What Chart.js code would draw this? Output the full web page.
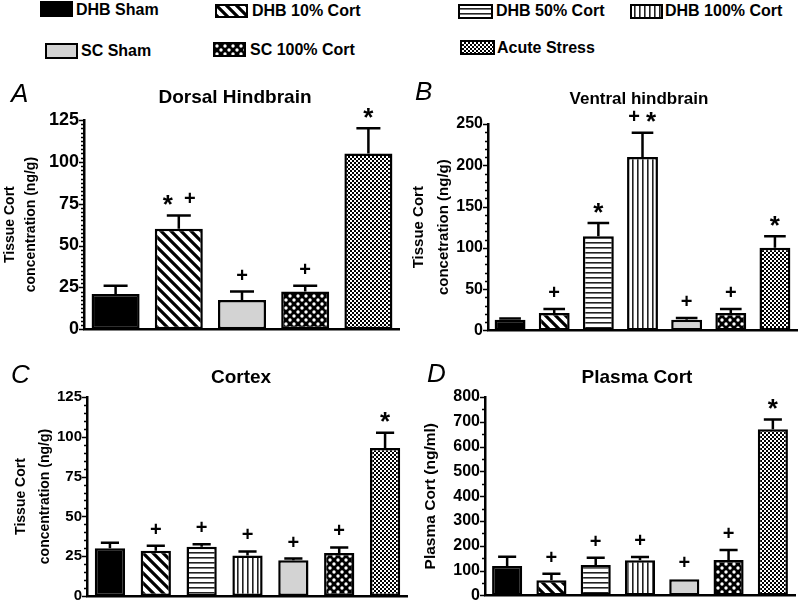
<!DOCTYPE html>
<html>
<head>
<meta charset="utf-8">
<script src="https://cdn.jsdelivr.net/npm/chart.js@4.4.1/dist/chart.umd.min.js"></script>
<style>
  body { margin: 0; background: #fff; }
  #page { position: relative; width: 800px; height: 610px; overflow: hidden; background: #fff;
          font-family: 'Liberation Sans', Arial, Helvetica, sans-serif; }
  #page canvas.panel { position: absolute; }
  .sw { position: absolute; border: 2px solid #000; }
  .lt { position: absolute; font-weight: bold; font-size: 16px; line-height: 16px; color: #000; white-space: nowrap; }
</style>
</head>
<body>
<div id="page">
  <canvas class="panel" id="dorsal" width="400" height="275" style="left:0;top:70px"></canvas>
  <canvas class="panel" id="ventral" width="400" height="275" style="left:400px;top:70px"></canvas>
  <canvas class="panel" id="cortex" width="408" height="260" style="left:0;top:350px"></canvas>
  <canvas class="panel" id="plasma" width="400" height="260" style="left:400px;top:350px"></canvas>
</div>
<script>
const FONT = "'Liberation Sans', Arial, Helvetica, sans-serif";

// groups
const groups = ['DHB Sham', 'DHB 10% Cort', 'DHB 50% Cort', 'DHB 100% Cort', 'SC Sham', 'SC 100% Cort', 'Acute Stress'];
const groupsDorsal = ['DHB Sham', 'DHB 10% Cort', 'SC Sham', 'SC 100% Cort', 'Acute Stress'];

// A - dorsal hindbrain (ng/g)
const dorsalMeans = [21, 60, 17.5, 22.5, 105];
const dorsalSem = [5, 8, 5, 3.5, 15];
const dorsalMarks = ['', '* +', '+', '+', '*'];

// B - ventral hindbrain (ng/g)
const ventralMeans = [13, 21, 114, 210, 13, 21, 100];
const ventralSem = [1.5, 5, 16, 29.5, 2, 5, 14];
const ventralMarks = ['', '+', '*', '+ *', '+', '+', '*'];

// C - cortex (ng/g)
const cortexMeans = [30, 28.5, 31, 25.5, 22.5, 27, 93];
const cortexSem = [3.5, 3, 1.5, 2.5, 1, 3.5, 9.5];
const cortexMarks = ['', '+', '+', '+', '+', '+', '*'];

// D - plasma (ng/ml)
const plasmaMeans = [119, 61, 123, 142, 65, 143, 670];
const plasmaSem = [37, 26, 29, 13, 0, 40, 39];
const plasmaMarks = ['', '+', '+', '+', '+', '+', '*'];

// y axes: max, major step, minor step
const dorsalAxis = [125, 25, 2.5];
const ventralAxis = [250, 50, 10];
const cortexAxis = [125, 25, 5];
const plasmaAxis = [800, 100, 50];

function tile(w, h, draw) {
  const c = document.createElement('canvas');
  c.width = w; c.height = h;
  draw(c.getContext('2d'), w, h);
  return c;
}

function makeFills(ctx) {
  const diag = tile(10, 10, (g, w, h) => {
    g.fillStyle = '#fff'; g.fillRect(0, 0, w, h);
    g.strokeStyle = '#000'; g.lineWidth = 3.2;
    g.beginPath();
    g.moveTo(-5, -5); g.lineTo(15, 15);
    g.moveTo(-5, 5); g.lineTo(5, 15);
    g.moveTo(5, -5); g.lineTo(15, 5);
    g.stroke();
  });
  const horiz = tile(4, 5, (g, w, h) => {
    g.fillStyle = '#fff'; g.fillRect(0, 0, w, h);
    g.fillStyle = '#222'; g.fillRect(0, 2, w, 1.6);
  });
  const vert = tile(5, 4, (g, w, h) => {
    g.fillStyle = '#fff'; g.fillRect(0, 0, w, h);
    g.fillStyle = '#222'; g.fillRect(2, 0, 1.6, h);
  });
  const dots = tile(8, 8, (g, w, h) => {
    g.fillStyle = '#000'; g.fillRect(0, 0, w, h);
    g.fillStyle = '#fff';
    [[2, 2], [6, 6]].forEach(([x, y]) => { g.beginPath(); g.arc(x, y, 1.7, 0, Math.PI * 2); g.fill(); });
  });
  const checker = tile(4, 4, (g, w, h) => {
    g.fillStyle = '#000'; g.fillRect(0, 0, w, h);
    g.fillStyle = '#fff'; g.fillRect(0, 0, 2, 2); g.fillRect(2, 2, 2, 2);
  });
  return {
    'DHB Sham': '#000',
    'DHB 10% Cort': ctx.createPattern(diag, 'repeat'),
    'DHB 50% Cort': ctx.createPattern(horiz, 'repeat'),
    'DHB 100% Cort': ctx.createPattern(vert, 'repeat'),
    'SC Sham': '#d3d3d3',
    'SC 100% Cort': ctx.createPattern(dots, 'repeat'),
    'Acute Stress': ctx.createPattern(checker, 'repeat')
  };
}

const errorBars = {
  id: 'errorBars',
  afterDatasetsDraw(chart, args, o) {
    const ctx = chart.ctx;
    const y = chart.scales.y;
    const data = chart.data.datasets[0].data;
    ctx.save();
    ctx.strokeStyle = '#000';
    ctx.fillStyle = '#000';
    ctx.lineWidth = 2.5;
    chart.getDatasetMeta(0).data.forEach((bar, i) => {
      const top = y.getPixelForValue(data[i] + o.errors[i]);
      const half = bar.width * o.cap / 2;
      if (o.errors[i] > 0) {
        ctx.beginPath();
        ctx.moveTo(bar.x, bar.y);
        ctx.lineTo(bar.x, top);
        ctx.moveTo(bar.x - half, top);
        ctx.lineTo(bar.x + half, top);
        ctx.stroke();
      }
      const marks = (o.marks[i] || '').split(' ').filter(Boolean);
      const cy = Math.min(top, bar.y) - 17;
      marks.forEach((m, k) => {
        const cx = bar.x + (k - (marks.length - 1) / 2) * o.gap;
        const size = m === '*' ? 26 : 20;
        ctx.font = 'bold ' + size + 'px ' + FONT;
        ctx.textAlign = 'center';
        ctx.textBaseline = 'alphabetic';
        ctx.fillText(m, cx, cy + (m === '*' ? 0.56 : 0.35) * size);
      });
    });
    ctx.restore();
  }
};

const yTicks = {
  id: 'yTicks',
  afterDraw(chart, args, o) {
    const s = chart.scales.y;
    const ctx = chart.ctx;
    const x = s.right;
    ctx.save();
    ctx.strokeStyle = '#000';
    ctx.lineWidth = 1.5;
    ctx.beginPath();
    const n = Math.round(s.max / o.minor);
    for (let k = 0; k <= n; k++) {
      const v = k * o.minor;
      const major = Math.abs(v / o.major - Math.round(v / o.major)) < 1e-6;
      const py = Math.round(s.getPixelForValue(v)) + 0.5;
      ctx.moveTo(x, py);
      ctx.lineTo(x - (major ? 5 : 3), py);
    }
    ctx.stroke();
    ctx.restore();
  }
};

const panelText = {
  id: 'panelText',
  afterDraw(chart, args, o) {
    const ctx = chart.ctx;
    ctx.save();
    ctx.fillStyle = '#000';
    ctx.textBaseline = 'middle';
    ctx.textAlign = 'center';
    ctx.font = 'bold ' + o.titleSize + 'px ' + FONT;
    ctx.fillText(o.title, o.titleX, o.titleY);
    ctx.textAlign = 'left';
    ctx.font = 'italic 26px ' + FONT;
    ctx.fillText(o.letter, o.letterX, o.letterY);
    ctx.restore();
  }
};

function panel(id, p) {
  const canvas = document.getElementById(id);
  const ctx = canvas.getContext('2d');
  const fills = makeFills(ctx);
  const [max, step, minor] = p.axis;
  return new Chart(ctx, {
    type: 'bar',
    data: {
      labels: p.labels,
      datasets: [{
        data: p.means,
        backgroundColor: p.labels.map(l => fills[l]),
        borderColor: '#000',
        borderWidth: 2.5,
        borderSkipped: false,
        barPercentage: p.barPct,
        categoryPercentage: 1
      }]
    },
    options: {
      responsive: false,
      animation: false,
      layout: { padding: p.pad },
      plugins: {
        legend: { display: false },
        tooltip: { enabled: false },
        errorBars: { errors: p.sem, marks: p.marks, cap: p.cap, gap: p.gap },
        yTicks: { major: step, minor: minor },
        panelText: p.text
      },
      scales: {
        x: {
          grid: { display: false, drawTicks: false },
          ticks: { display: false },
          border: { display: true, color: '#000', width: 2.5 },
          afterFit: s => { s.height = 0; }
        },
        y: {
          min: 0,
          max: max,
          grid: { display: false, drawTicks: false },
          border: { display: true, color: '#000', width: 2.5 },
          ticks: {
            stepSize: step,
            autoSkip: false,
            padding: 5,
            color: '#000',
            font: { family: FONT, size: p.tickSize, weight: 'bold' }
          },
          title: {
            display: true,
            text: p.yTitle,
            color: '#000',
            font: { family: FONT, size: p.yTitleSize, weight: 'bold', lineHeight: p.yTitleLH },
            padding: { top: p.yTitlePad, bottom: 0 }
          },
          afterFit: s => { s.width = p.yWidth; }
        }
      }
    },
    plugins: [errorBars, yTicks, panelText]
  });
}

panel('dorsal', {
  labels: groupsDorsal, means: dorsalMeans, sem: dorsalSem, marks: dorsalMarks, axis: dorsalAxis,
  barPct: 0.76, cap: 0.5, gap: 22, tickSize: 18,
  yTitle: ['Tissue Cort', 'concentration (ng/g)'], yTitleSize: 14, yTitleLH: 1.5, yTitlePad: 0, yWidth: 84,
  pad: { top: 50, bottom: 15, left: 0, right: 0 },
  text: { title: 'Dorsal Hindbrain', titleSize: 19, titleX: 235, titleY: 28, letter: 'A', letterX: 11, letterY: 25 }
});

panel('ventral', {
  labels: groups, means: ventralMeans, sem: ventralSem, marks: ventralMarks, axis: ventralAxis,
  barPct: 0.7, cap: 0.7, gap: 17, tickSize: 16,
  yTitle: ['Tissue Cort', 'concetration (ng/g)'], yTitleSize: 15, yTitleLH: 1.7, yTitlePad: 6, yWidth: 88,
  pad: { top: 54, bottom: 14, left: 0, right: 3 },
  text: { title: 'Ventral hindbrain', titleSize: 17, titleX: 239, titleY: 29, letter: 'B', letterX: 15, letterY: 23 }
});

panel('cortex', {
  labels: groups, means: cortexMeans, sem: cortexSem, marks: cortexMarks, axis: cortexAxis,
  barPct: 0.66, cap: 0.6, gap: 18, tickSize: 15,
  yTitle: ['Tissue Cort', 'concentration (ng/g)'], yTitleSize: 14, yTitleLH: 1.65, yTitlePad: 10, yWidth: 87,
  pad: { top: 47, bottom: 5, left: 0, right: 0 },
  text: { title: 'Cortex', titleSize: 19, titleX: 241, titleY: 28, letter: 'C', letterX: 11, letterY: 26 }
});

panel('plasma', {
  labels: groups, means: plasmaMeans, sem: plasmaSem, marks: plasmaMarks, axis: plasmaAxis,
  barPct: 0.68, cap: 0.6, gap: 18, tickSize: 16,
  yTitle: 'Plasma Cort (ng/ml)', yTitleSize: 15.5, yTitleLH: 1.2, yTitlePad: 21, yWidth: 85,
  pad: { top: 47, bottom: 8, left: 0, right: 5 },
  text: { title: 'Plasma Cort', titleSize: 19, titleX: 237, titleY: 28, letter: 'D', letterX: 27, letterY: 25 }
});

// legend, built from the same fills
const legendLayout = [
  { name: 'DHB Sham', x: 40, y: 1, w: 33, h: 16, tx: 76, ty: 10 },
  { name: 'DHB 10% Cort', x: 215, y: 4, w: 33, h: 14, tx: 252, ty: 11 },
  { name: 'DHB 50% Cort', x: 458, y: 4, w: 35, h: 15, tx: 496, ty: 11 },
  { name: 'DHB 100% Cort', x: 630, y: 4, w: 33, h: 15, tx: 665, ty: 11 },
  { name: 'SC Sham', x: 45, y: 43, w: 33, h: 16, tx: 81, ty: 51 },
  { name: 'SC 100% Cort', x: 213, y: 42, w: 33, h: 15, tx: 250, ty: 50 },
  { name: 'Acute Stress', x: 460, y: 40, w: 35, h: 15, tx: 497, ty: 48 }
];
const page = document.getElementById('page');
legendLayout.forEach(it => {
  const c = document.createElement('canvas');
  c.className = 'sw';
  c.width = it.w - 4; c.height = it.h - 4;
  c.style.left = it.x + 'px'; c.style.top = it.y + 'px';
  const g = c.getContext('2d');
  g.fillStyle = makeFills(g)[it.name];
  g.fillRect(0, 0, c.width, c.height);
  page.appendChild(c);
  const t = document.createElement('div');
  t.className = 'lt';
  t.textContent = it.name;
  t.style.left = it.tx + 'px'; t.style.top = (it.ty - 8) + 'px';
  page.appendChild(t);
});
</script>
</body>
</html>
